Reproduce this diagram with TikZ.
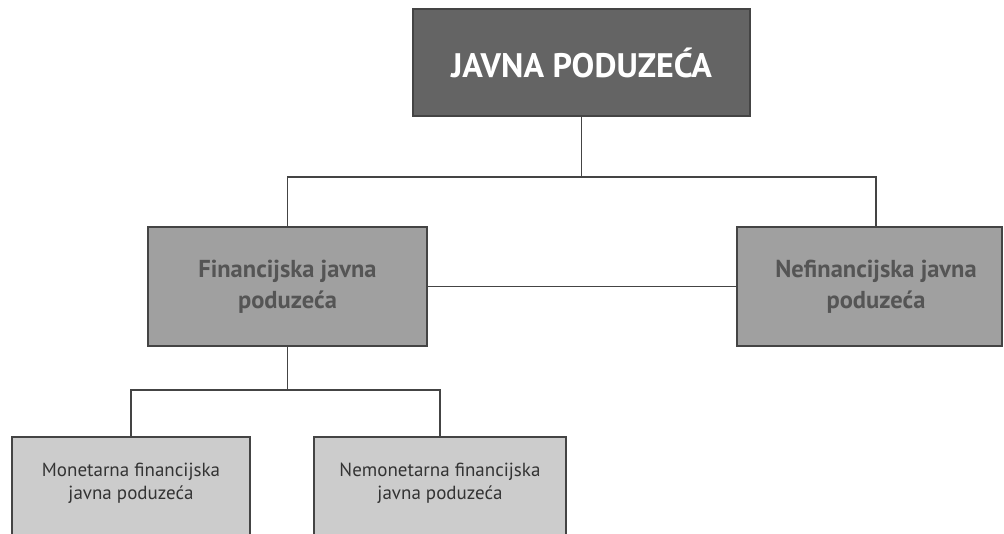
\documentclass[tikz,border=0pt]{standalone}
\usepackage{fontspec}
\setmainfont{PT Sans}
\usepackage{tikz}
\usetikzlibrary{positioning}
\definecolor{topfill}{RGB}{100, 100, 100}
\definecolor{midfill}{RGB}{160, 160, 160}
\definecolor{lowfill}{RGB}{204, 204, 204}
\definecolor{edge}{RGB}{68, 68, 68}
\definecolor{midtext}{RGB}{85, 85, 85}
\definecolor{lowtext}{RGB}{51, 51, 51}

\begin{document}
\begin{tikzpicture}[
   x=1pt, y=-1pt,
   topbox/.style={rectangle, draw=edge, fill=topfill, line width=1.5, text=white,
                  font=\fontsize{34}{40}\selectfont\bfseries,
                  minimum width=337, minimum height=107},
   midbox/.style={rectangle, draw=edge, fill=midfill, line width=1.5, text=midtext,
                  font=\fontsize{24.5}{31}\selectfont\bfseries, align=center,
                  minimum height=119},
   midtxt/.style={text=midtext, align=center,
                  font=\fontsize{24.5}{31}\selectfont\bfseries},
   lowbox/.style={rectangle, draw=edge, fill=lowfill, line width=1.5,
                  minimum height=130, anchor=north},
   lowtxt/.style={text=lowtext, align=center,
                  font=\fontsize{19}{23}\selectfont},
   link/.style={draw=edge, line width=1.2}
  ]

  \useasboundingbox (0, 0) rectangle (1004, 534);

  % Levels
  \node (top) at (581.5, 62.5) [topbox] {JAVNA PODUZEĆA};

  \node (fin) at (287.5, 286.5) [midbox, minimum width=279]
        {Financijska javna\\poduzeća};
  \node (nefin) at (869.5, 286.5) [midbox, minimum width=265] {};
  \node (nefintxt) at (876, 286.5) [midtxt] {Nefinancijska javna\\poduzeća};

  \node (mon) at (131, 436) [lowbox, minimum width=238] {};
  \node (montxt) at ([yshift=-47pt]mon.north) [lowtxt]
        {Monetarna financijska\\javna poduzeća};
  \node (nemon) at (440, 436) [lowbox, minimum width=252] {};
  \node (nemontxt) at ([yshift=-47pt]nemon.north) [lowtxt]
        {Nemonetarna financijska\\javna poduzeća};

  % Connectors
  \coordinate (busA) at (581.5, 177);
  \coordinate (busB) at (287.5, 390);

  \draw[link] (top.south) -- (busA) -| (fin.north);
  \draw[link] (busA) -| (nefintxt.center |- nefin.north);
  \draw[link] (fin.east) -- (nefin.west);

  \draw[link] (fin.south) -- (busB) -| (mon.north);
  \draw[link] (busB) -| (nemon.north);

\end{tikzpicture}
\end{document}
